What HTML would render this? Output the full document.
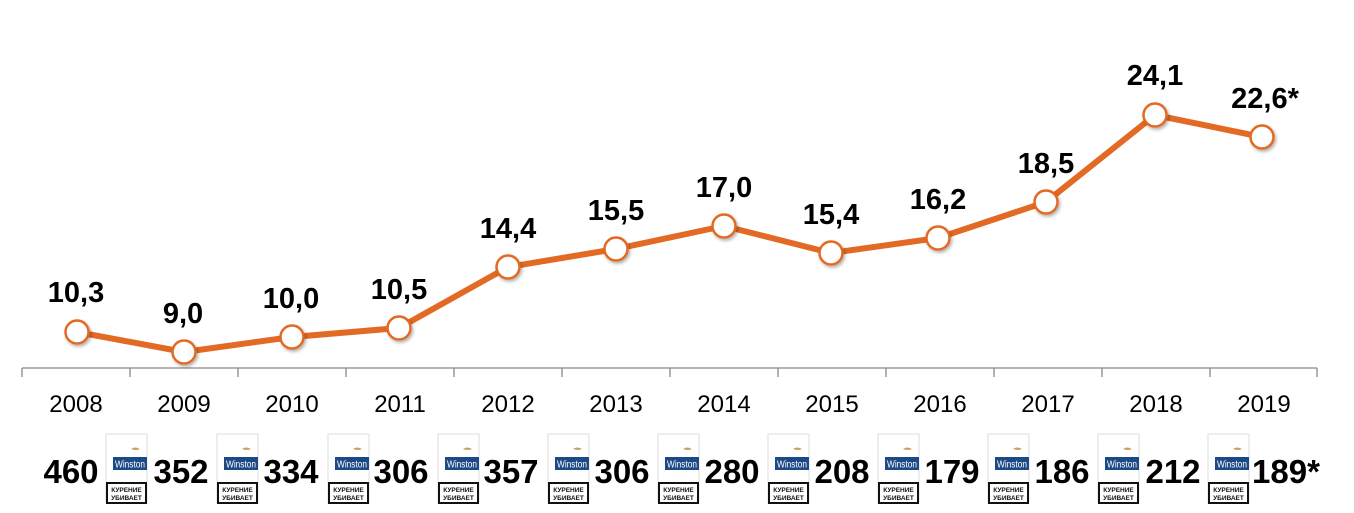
<!DOCTYPE html>
<html><head><meta charset="utf-8"><style>
html,body{margin:0;padding:0;background:#fff;width:1354px;height:513px;overflow:hidden}
svg text{font-family:"Liberation Sans",sans-serif}
</style></head><body>
<svg width="1354" height="513" xmlns="http://www.w3.org/2000/svg">
<defs>
<filter id="sh" x="-50%" y="-50%" width="200%" height="200%"><feDropShadow dx="1.5" dy="2" stdDeviation="1.5" flood-color="#000" flood-opacity="0.3"/></filter>
<g id="pack">
<rect x="0" y="0" width="41" height="69" fill="#fff" stroke="#ddd" stroke-width="1"/>
<path d="M25 15 q4 -3 9 0 q-4 2 -9 0z" fill="#c8a25c"/>
<rect x="7" y="23" width="34" height="13" fill="#1d4a86"/>
<text x="24" y="33.5" font-size="10.5" fill="#fff" text-anchor="middle" font-family="Liberation Serif,serif" textLength="30" lengthAdjust="spacingAndGlyphs">Winston</text>
<rect x="1" y="49" width="39" height="20" fill="#fff" stroke="#111" stroke-width="2"/>
<text x="20.5" y="58" font-size="6.5" font-weight="bold" text-anchor="middle" fill="#111">КУРЕНИЕ</text>
<text x="20.5" y="66" font-size="6.5" font-weight="bold" text-anchor="middle" fill="#111">УБИВАЕТ</text>
</g>
</defs>
<line x1="22" y1="368" x2="1317" y2="368" stroke="#888" stroke-width="1.3"/>
<g stroke="#888" stroke-width="1.3">
<line x1="22" y1="368" x2="22" y2="377"/><line x1="130" y1="368" x2="130" y2="377"/><line x1="238" y1="368" x2="238" y2="377"/><line x1="346" y1="368" x2="346" y2="377"/><line x1="454" y1="368" x2="454" y2="377"/><line x1="562" y1="368" x2="562" y2="377"/><line x1="670" y1="368" x2="670" y2="377"/><line x1="778" y1="368" x2="778" y2="377"/><line x1="886" y1="368" x2="886" y2="377"/><line x1="994" y1="368" x2="994" y2="377"/><line x1="1102" y1="368" x2="1102" y2="377"/><line x1="1210" y1="368" x2="1210" y2="377"/><line x1="1317" y1="368" x2="1317" y2="377"/>
</g>
<polyline points="77,332 184,352 292,337 399,328 508,267 616,249 724,226 831,253 938,238 1046,202 1155,115 1262,137" fill="none" stroke="#e36a24" stroke-width="6" stroke-linejoin="round"/>
<g fill="#fff" stroke="#e36a24" stroke-width="2.5" filter="url(#sh)">
<circle cx="77" cy="332" r="11.5"/><circle cx="184" cy="352" r="11.5"/><circle cx="292" cy="337" r="11.5"/><circle cx="399" cy="328" r="11.5"/><circle cx="508" cy="267" r="11.5"/><circle cx="616" cy="249" r="11.5"/><circle cx="724" cy="226" r="11.5"/><circle cx="831" cy="253" r="11.5"/><circle cx="938" cy="238" r="11.5"/><circle cx="1046" cy="202" r="11.5"/><circle cx="1155" cy="115" r="11.5"/><circle cx="1262" cy="137" r="11.5"/>
</g>
<g font-size="29" font-weight="bold" text-anchor="middle" fill="#000">
<text x="76" y="302">10,3</text><text x="183" y="323">9,0</text><text x="291" y="308">10,0</text><text x="399" y="299">10,5</text><text x="508" y="238">14,4</text><text x="616" y="220">15,5</text><text x="724" y="197">17,0</text><text x="831" y="224">15,4</text><text x="938" y="209">16,2</text><text x="1046" y="173">18,5</text><text x="1155" y="85">24,1</text><text x="1265" y="108">22,6*</text>
</g>
<g font-size="24" text-anchor="middle" fill="#000">
<text x="76" y="412">2008</text><text x="184" y="412">2009</text><text x="292" y="412">2010</text><text x="400" y="412">2011</text><text x="508" y="412">2012</text><text x="616" y="412">2013</text><text x="724" y="412">2014</text><text x="832" y="412">2015</text><text x="940" y="412">2016</text><text x="1048" y="412">2017</text><text x="1156" y="412">2018</text><text x="1264" y="412">2019</text>
</g>
<g font-size="33" font-weight="bold" text-anchor="middle" fill="#000">
<text x="71" y="483">460</text><text x="181" y="483">352</text><text x="291" y="483">334</text><text x="401" y="483">306</text><text x="511" y="483">357</text><text x="622" y="483">306</text><text x="732" y="483">280</text><text x="842" y="483">208</text><text x="952" y="483">179</text><text x="1062" y="483">186</text><text x="1173" y="483">212</text><text x="1286" y="483">189*</text>
</g>
<use href="#pack" x="106" y="434"/><use href="#pack" x="217" y="434"/><use href="#pack" x="328" y="434"/><use href="#pack" x="438" y="434"/><use href="#pack" x="548" y="434"/><use href="#pack" x="658" y="434"/><use href="#pack" x="768" y="434"/><use href="#pack" x="878" y="434"/><use href="#pack" x="988" y="434"/><use href="#pack" x="1098" y="434"/><use href="#pack" x="1208" y="434"/>
</svg>
</body></html>
